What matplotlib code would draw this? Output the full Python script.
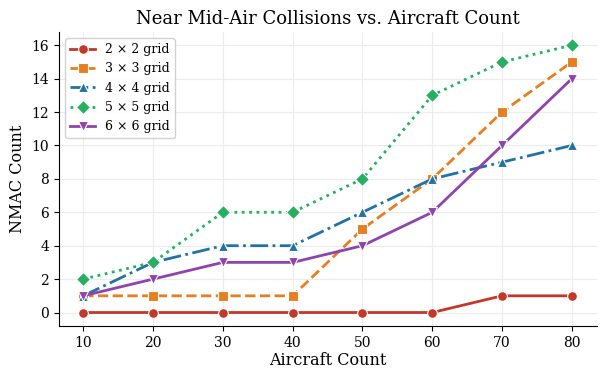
import matplotlib
matplotlib.use("Agg")
import matplotlib.pyplot as plt

plt.rcParams['font.family'] = ['DejaVu Serif']

aircraft = [10, 20, 30, 40, 50, 60, 70, 80]
nmac_2x2 = [0, 0, 0, 0, 0, 0, 1, 1]
nmac_3x3 = [1, 1, 1, 1, 5, 8, 12, 15]
nmac_4x4 = [1, 3, 4, 4, 6, 8, 9, 10]
nmac_5x5 = [2, 3, 6, 6, 8, 13, 15, 16]
nmac_6x6 = [1, 2, 3, 3, 4, 6, 10, 14]

fig, ax = plt.subplots(figsize=(6, 3.75), dpi=100)
fig.subplots_adjust(left=0.098, right=0.995, top=0.915, bottom=0.131)

style = dict(linewidth=2, markersize=7, markeredgecolor='white', markeredgewidth=0.8)
ax.plot(aircraft, nmac_2x2, marker='o', linestyle='-', color='#c0392b', label='2 × 2 grid', **style)
ax.plot(aircraft, nmac_3x3, marker='s', linestyle='--', color='#e67e22', label='3 × 3 grid', **style)
ax.plot(aircraft, nmac_4x4, marker='^', linestyle='-.', color='#2471a3', label='4 × 4 grid', **style)
ax.plot(aircraft, nmac_5x5, marker='D', linestyle=':', color='#27ae60', label='5 × 5 grid', **style)
ax.plot(aircraft, nmac_6x6, marker='v', linestyle='-', color='#8e44ad', label='6 × 6 grid', **style)

ax.set_xlabel('Aircraft Count', fontsize=11.5, labelpad=2)
ax.set_ylabel('NMAC Count', fontsize=11.5)
ax.set_title('Near Mid-Air Collisions vs. Aircraft Count', fontsize=13)
ax.set_xticks(aircraft)
ax.set_yticks(range(0, 17, 2))
ax.set_xlim(6.5, 83.6)
ax.set_ylim(-0.8, 16.8)
ax.tick_params(labelsize=10)
ax.grid(True, color='#ececec', linewidth=0.8)
ax.set_axisbelow(True)
ax.spines['top'].set_visible(False)
ax.spines['right'].set_visible(False)
ax.legend(loc='upper left', fontsize=9, framealpha=0.9)

plt.savefig('out.png')
